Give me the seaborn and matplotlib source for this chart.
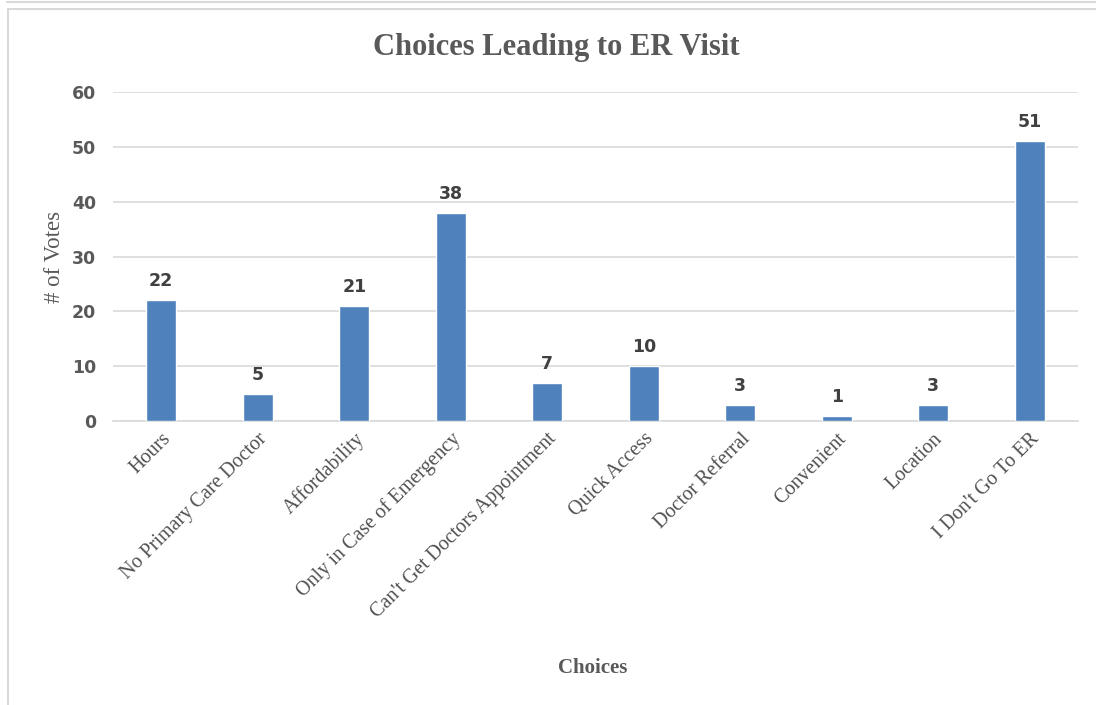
import matplotlib
matplotlib.use("Agg")
import matplotlib.pyplot as plt
import seaborn as sns
import pandas as pd
from matplotlib.patches import Rectangle
from matplotlib.lines import Line2D

categories = ["Hours", "No Primary Care Doctor", "Affordability", "Only in Case of Emergency",
              "Can't Get Doctors Appointment", "Quick Access", "Doctor Referral", "Convenient",
              "Location", "I Don't Go To ER"]
votes = [22, 5, 21, 38, 7, 10, 3, 1, 3, 51]
yticks = [0, 10, 20, 30, 40, 50, 60]

df = pd.DataFrame({"Choices": categories, "Votes": votes})

sns.set_theme(style="white")
plt.rcParams["font.family"] = ["Liberation Serif", "DejaVu Serif"]

fig = plt.figure(figsize=(10.96, 7.05), dpi=100)
ax = fig.add_axes([113/1096, 1 - 421/705, 965/1096, 329/705])

sns.barplot(data=df, x="Choices", y="Votes", color="#4F81BD", width=0.31,
            saturation=1, ax=ax, zorder=3)

ax.set_ylim(0, 60)
ax.set_xlim(-0.5, len(categories) - 0.5)
ax.set_yticks(yticks)
ax.set_yticklabels([str(t) for t in yticks], fontsize=12.5, color="#595959",
                   fontweight="bold", family=["DejaVu Sans"])
ax.yaxis.grid(True, color="#D9D9D9", linewidth=1.2, zorder=0)
ax.set_axisbelow(True)
for s in ["top", "right", "left"]:
    ax.spines[s].set_visible(False)
ax.spines["bottom"].set_color("#D9D9D9")
ax.spines["bottom"].set_linewidth(1.2)
ax.tick_params(axis="both", length=0)
ax.tick_params(axis="y", pad=12)
ax.tick_params(axis="x", pad=6)

ax.set_xticks(range(len(categories)))
ax.set_xticklabels(categories, rotation=45, ha="right", rotation_mode="anchor",
                   fontsize=14.5, color="#505050")

for i, v in enumerate(votes):
    ax.text(i, v + 1.8, str(v), ha="center", va="bottom", fontsize=12.5,
            fontweight="bold", color="#404040", family=["DejaVu Sans"])

ax.set_xlabel("")
ax.set_ylabel("")
fig.text(55/1096, 1 - 257/705, "# of Votes", rotation=90, ha="center", va="center",
         fontsize=16.5, color="#595959")
fig.text(593/1096, 1 - 668/705, "Choices", ha="center", va="center",
         fontsize=15, color="#595959", fontweight="bold")
fig.text(556/1096, 1 - 47/705, "Choices Leading to ER Visit", ha="center", va="center",
         fontsize=22, color="#595959", fontweight="bold")

# outer chart border
fig.patches.append(Rectangle((8/1096, -0.01), 1.1, 1 - 9/705 + 0.01,
                             transform=fig.transFigure, fill=False,
                             edgecolor="#D9D9D9", linewidth=1.5))
fig.lines.append(Line2D([7/1096, 1], [1 - 2/705, 1 - 2/705], transform=fig.transFigure,
                        color="#D9D9D9", linewidth=1.5))

fig.savefig("out.png", dpi=100, facecolor="white")
